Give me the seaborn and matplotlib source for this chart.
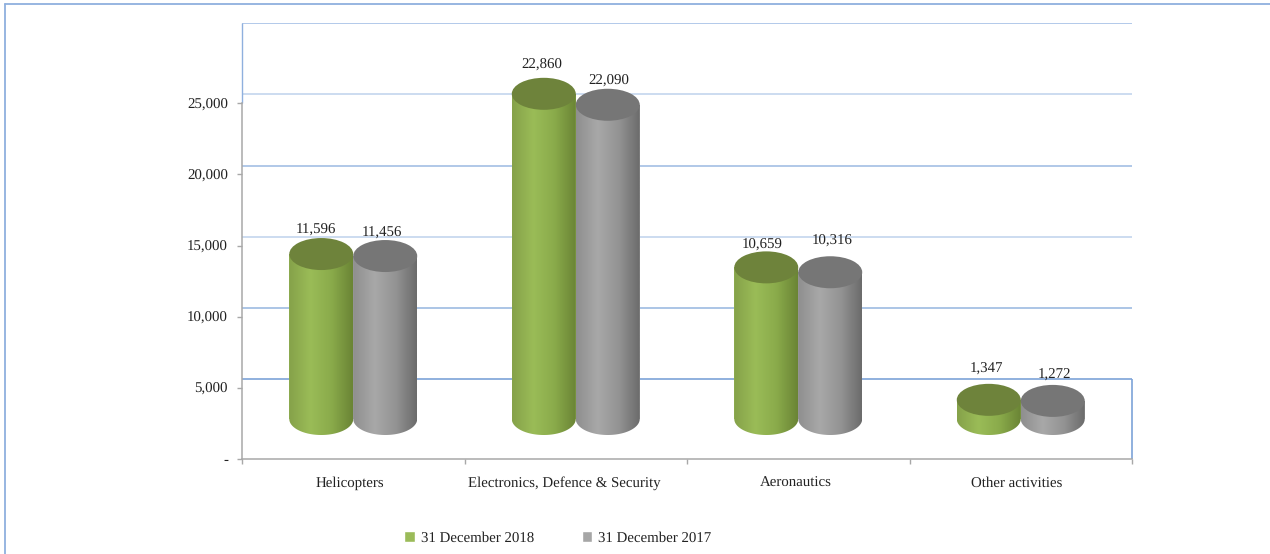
import numpy as np
import pandas as pd
import matplotlib
matplotlib.use("Agg")
import matplotlib.pyplot as plt
import seaborn as sns
from matplotlib.colors import LinearSegmentedColormap
from matplotlib.lines import Line2D
from matplotlib.patches import Ellipse, PathPatch
from matplotlib.path import Path

segments = ["Helicopters", "Electronics, Defence & Security", "Aeronautics", "Other activities"]
periods = ["31 December 2018", "31 December 2017"]
values_2018 = [11596, 22860, 10659, 1347]
values_2017 = [11456, 22090, 10316, 1272]
y_ticks = [0, 5000, 10000, 15000, 20000, 25000]
y_tick_labels = ["-", "5,000", "10,000", "15,000", "20,000", "25,000"]

# hand placed labels in the original, offsets in pixels from the top of each cylinder
label_dx = [-5, -3.5, -2, 1.5, -4, 1.5, -2, 1.5]
label_dy = [24, 23, 28.5, 24, 22, 31, 31, 26]
xlabel_shift = [-3, -11, -2, -4]

BASE = 2812        # cylinders stand on the floor of the fake 3d box
ELLIPSE_H = 2250
WALL = 632         # back wall gridlines sit above the ticks
YMAX = 30650
FS = 10.7

GREEN = "#9BBB59"
GREY = "#A6A6A6"
shades = {
    GREEN: (["#86A24A", "#9ABC57", "#8AAB4B", "#6B8535"], "#6E833B"),
    GREY: (["#8F8F8F", "#A8A8A8", "#949494", "#6C6C6C"], "#767676"),
}

df = pd.DataFrame({
    "segment": segments * 2,
    "period": [periods[0]] * 4 + [periods[1]] * 4,
    "value": values_2018 + values_2017,
})

sns.set_theme(style="white")
plt.rcParams["font.family"] = ["Liberation Serif", "DejaVu Serif"]
plt.rcParams["text.hinting"] = "no_hinting"

fig = plt.figure(figsize=(12.7, 5.54), dpi=100)
ax = fig.add_axes([242 / 1270, 1 - 459 / 554, 890 / 1270, 436 / 554])

sns.barplot(data=df, x="segment", y="value", hue="period", hue_order=periods,
            palette=[GREEN, GREY], saturation=1, width=0.575, gap=0, ax=ax)

# back wall of the box
grid_levels = np.arange(5000, 30001, 5000) + WALL
grid_colors = ["#7DA3D8", "#9DBBE2", "#C3D5EE", "#A3BFE4", "#C3D5EE", "#A5C0E6"]
for level, col in zip(grid_levels, grid_colors):
    ax.hlines(level, -0.5, 3.5, color=col, lw=1.2, zorder=0)
ax.vlines(-0.5, 25000, grid_levels[-1], color="#8FB0DE", lw=1.0, zorder=1, clip_on=False)
ax.vlines(3.5, 0, grid_levels[0], color="#7DA3D8", lw=1.2, zorder=1, clip_on=False)

# turn each flat bar into a shaded cylinder
for container, base_col in zip(ax.containers, [GREEN, GREY]):
    side_cols, top_col = shades[base_col]
    cmap = LinearSegmentedColormap.from_list("side", side_cols)
    for bar in container:
        bar.set_y(BASE)
        bar.set_edgecolor("none")
        x0 = bar.get_x()
        w = bar.get_width()
        top = BASE + bar.get_height()

        t = np.linspace(np.pi, 2 * np.pi, 60)
        arc_x = x0 + w / 2 + w / 2 * np.cos(t)
        arc_y = BASE + ELLIPSE_H / 2 * np.sin(t)
        verts = [(x0, top)] + list(zip(arc_x, arc_y)) + [(x0 + w, top), (x0, top)]
        outline = PathPatch(Path(verts), transform=ax.transData, fc="none", ec="none")
        ax.add_patch(outline)

        im = ax.imshow(np.linspace(0, 1, 64).reshape(1, -1), cmap=cmap, aspect="auto",
                       extent=[x0, x0 + w, BASE - ELLIPSE_H, top], zorder=3)
        im.set_clip_path(outline)
        ax.add_patch(Ellipse((x0 + w / 2, top), w, ELLIPSE_H, fc=top_col, ec="none", zorder=4))

ax.set_xlim(-0.5, 3.5)
ax.set_ylim(0, YMAX)

# value labels
for i in range(4):
    for j, vals in enumerate([values_2018, values_2017]):
        bar = ax.containers[j][i]
        k = i * 2 + j
        ax.annotate(f"{vals[i]:,}", (bar.get_x() + bar.get_width() / 2, bar.get_y() + bar.get_height()),
                    xytext=(label_dx[k], label_dy[k]), textcoords="offset pixels",
                    ha="center", va="center", fontsize=FS, color="#222222", zorder=6)

# axes
for side in ["top", "right"]:
    ax.spines[side].set_visible(False)
for side in ["left", "bottom"]:
    ax.spines[side].set_color("#A8A8A8")
    ax.spines[side].set_linewidth(1.1)
ax.spines["left"].set_bounds(0, 25000)

ax.set_yticks(y_ticks)
ax.set_yticklabels(y_tick_labels)
ax.set_xticks(np.arange(4) + np.array(xlabel_shift) / 222.5)
ax.set_xticklabels(segments)
ax.set_xticks(np.arange(-0.5, 4), minor=True)
ax.tick_params(axis="y", length=3.6, width=1, color="#A8A8A8", pad=6.5, labelsize=FS, labelcolor="#222222", left=True)
ax.tick_params(axis="x", which="major", length=0, pad=19.8, labelsize=FS, labelcolor="#222222")
ax.tick_params(axis="x", which="minor", length=3.6, width=1, color="#A8A8A8", bottom=True)
for lab in ax.get_xticklabels():
    lab.set_verticalalignment("baseline")
ax.set_xlabel("")
ax.set_ylabel("")

leg = ax.legend(loc="center", bbox_to_anchor=(558 / 1270, 1 - 538 / 554), bbox_transform=fig.transFigure,
                ncol=2, frameon=False, fontsize=FS, handlelength=0.7, handleheight=0.7,
                handletextpad=0.42, columnspacing=3.2, title=None)
for txt in leg.get_texts():
    txt.set_color("#222222")

# outer frame of the screenshot
frame = "#8FB0DE"
fig.add_artist(Line2D([5 / 1270, 5 / 1270], [0, 1 - 4 / 554], color=frame, lw=1.3))
fig.add_artist(Line2D([5 / 1270, 1], [1 - 4 / 554, 1 - 4 / 554], color=frame, lw=1.3))

fig.savefig("out.png", dpi=100)
